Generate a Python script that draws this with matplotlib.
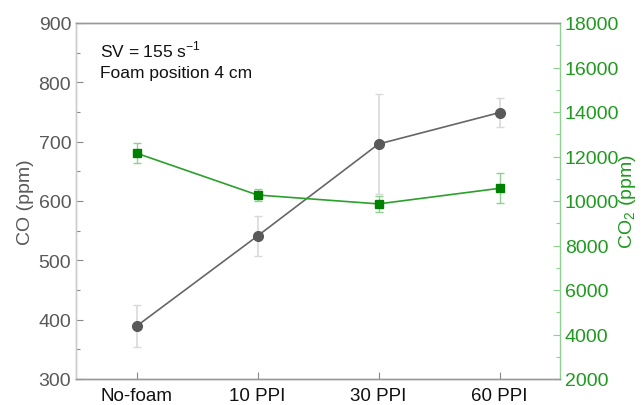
import matplotlib
matplotlib.use('Agg')
import matplotlib.pyplot as plt
from matplotlib.ticker import MultipleLocator

plt.rcParams['font.family'] = ['Liberation Sans', 'DejaVu Sans']

categories = ['No-foam', '10 PPI', '30 PPI', '60 PPI']
co = [389, 541, 696, 749]
co_err = [35, 33, 85, 24]
co2 = [12150, 10270, 9870, 10570]
co2_err = [450, 260, 370, 680]

GRAY = '#595959'
GREEN = '#008000'
GREEN_TXT = '#1f9a1f'

fig = plt.figure(figsize=(6.44, 4.06), dpi=100)
ax = fig.add_axes([76 / 644, 26 / 406, 484 / 644, 356 / 406])
ax2 = ax.twinx()

x = list(range(len(categories)))

ax.errorbar(x, co, yerr=co_err, color='#666666', lw=1.2, marker='o', ms=7,
            mfc=GRAY, mec=GRAY, ecolor='#d9d9d9', elinewidth=1.2, capsize=3,
            capthick=1.0, zorder=3)
ax2.errorbar(x, co2, yerr=co2_err, color='#2ca02c', lw=1.2, marker='s', ms=6,
             mfc=GREEN, mec=GREEN, ecolor='#8fcf8f', elinewidth=1.0, capsize=3,
             capthick=1.0, zorder=3)

ax.set_xlim(-0.5, 3.5)
ax.set_ylim(300, 900)
ax2.set_ylim(2000, 18000)
ax.set_xticks(x)
ax.set_xticklabels(categories, fontsize=13.5, color='#111111')

ax.yaxis.set_major_locator(MultipleLocator(100))
ax.yaxis.set_minor_locator(MultipleLocator(50))
ax2.yaxis.set_major_locator(MultipleLocator(2000))
ax2.yaxis.set_minor_locator(MultipleLocator(1000))

ax.tick_params(axis='y', which='both', direction='in', colors='#888888',
               labelcolor=GRAY, labelsize=14, length=5, width=0.8)
ax.tick_params(axis='y', which='minor', length=3)
ax.tick_params(axis='x', direction='in', colors='#888888', labelcolor='#111111',
               length=5, width=0.8, pad=6)
ax2.tick_params(axis='y', which='both', direction='in', colors='#8fcf8f',
                labelcolor=GREEN_TXT, labelsize=14, length=5, width=0.8)
ax2.tick_params(axis='y', which='minor', length=3)

for name in ['left', 'bottom', 'top']:
    ax.spines[name].set_color('#999999')
    ax2.spines[name].set_color('#999999')
ax.spines['left'].set_color('#cccccc')
ax2.spines['left'].set_color('#cccccc')
ax.spines['right'].set_visible(False)
ax2.spines['right'].set_color('#8fcf8f')
for a in (ax, ax2):
    for s in a.spines.values():
        s.set_linewidth(1.0)

ax.set_ylabel('CO (ppm)', fontsize=14, color=GRAY, labelpad=3)
ax2.set_ylabel('CO$_\\mathregular{2}$ (ppm)', fontsize=14, color=GREEN_TXT,
               labelpad=-2)

ax.text(0.05, 0.927, 'SV = 155 s$^\\mathregular{-1}$', transform=ax.transAxes,
        fontsize=12.5, color='#111111', va='center')
ax.text(0.05, 0.86, 'Foam position 4 cm', transform=ax.transAxes,
        fontsize=12.5, color='#111111', va='center')

fig.savefig('out.png', dpi=100)
